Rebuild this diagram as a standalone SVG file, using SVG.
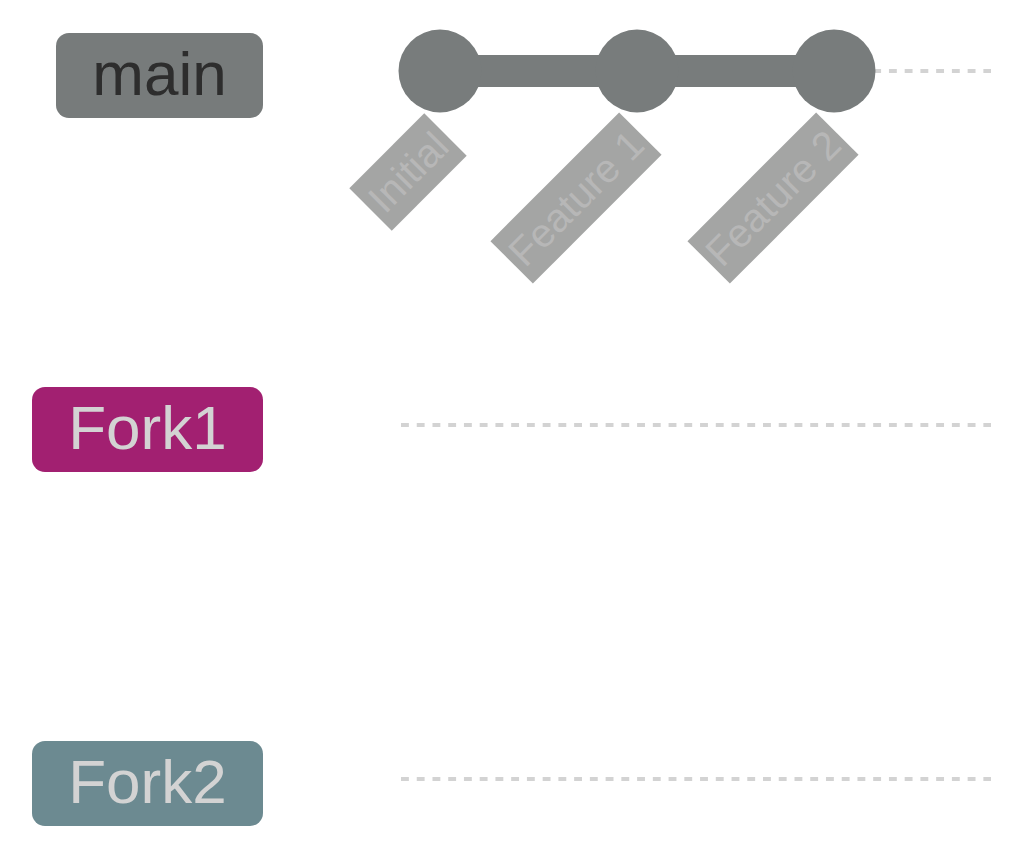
<svg xmlns="http://www.w3.org/2000/svg" width="1024" height="858" viewBox="0 0 1024 858">
<style>
.branch-line{stroke:#d3d3d3;stroke-width:4;stroke-dasharray:7.87 7.87;fill:none}
.blabel{font-family:"Liberation Sans",Arial,sans-serif;font-size:62px;text-anchor:middle}
.commit{fill:#787c7c}
.clabel-bg{fill:#a4a5a4}
.clabel{font-family:"Liberation Sans",Arial,sans-serif;font-size:40px;fill:#b7b7b7;text-anchor:middle;dominant-baseline:central}
</style>
<rect width="1024" height="858" fill="#ffffff"/>
<g id="branch-lines">
<line class="branch-line" x1="401" y1="71" x2="991" y2="71"/>
<line class="branch-line" x1="401" y1="425" x2="991" y2="425"/>
<line class="branch-line" x1="401" y1="779" x2="991" y2="779"/>
</g>
<g id="branch-main">
<rect x="56" y="33" width="207" height="85" rx="13" fill="#777b7b"/>
<text class="blabel" x="159.5" y="95" fill="#2d2d2d">main</text>
</g>
<g id="branch-fork1">
<rect x="32" y="387" width="231" height="85" rx="13" fill="#a22071"/>
<text class="blabel" x="147.5" y="449" fill="#d3d3d3">Fork1</text>
</g>
<g id="branch-fork2">
<rect x="32" y="741" width="231" height="85" rx="13" fill="#6c8a91"/>
<text class="blabel" x="147.5" y="803" fill="#d3d3d3">Fork2</text>
</g>
<g id="connectors">
<line x1="440" y1="71" x2="834" y2="71" stroke="#787c7c" stroke-width="32"/>
</g>
<g id="commit-initial">
<circle class="commit" cx="440" cy="71" r="41.5"/>
<g transform="translate(408,172) rotate(-45)">
<rect class="clabel-bg" x="-53" y="-30" width="106" height="60"/>
<text class="clabel" x="0" y="0">Initial</text>
</g>
</g>
<g id="commit-feature1">
<circle class="commit" cx="637" cy="71" r="41.5"/>
<g transform="translate(576,198) rotate(-45)">
<rect class="clabel-bg" x="-91" y="-30" width="182" height="60"/>
<text class="clabel" x="0" y="0">Feature 1</text>
</g>
</g>
<g id="commit-feature2">
<circle class="commit" cx="834" cy="71" r="41.5"/>
<g transform="translate(773,198) rotate(-45)">
<rect class="clabel-bg" x="-91" y="-30" width="182" height="60"/>
<text class="clabel" x="0" y="0">Feature 2</text>
</g>
</g>
</svg>
